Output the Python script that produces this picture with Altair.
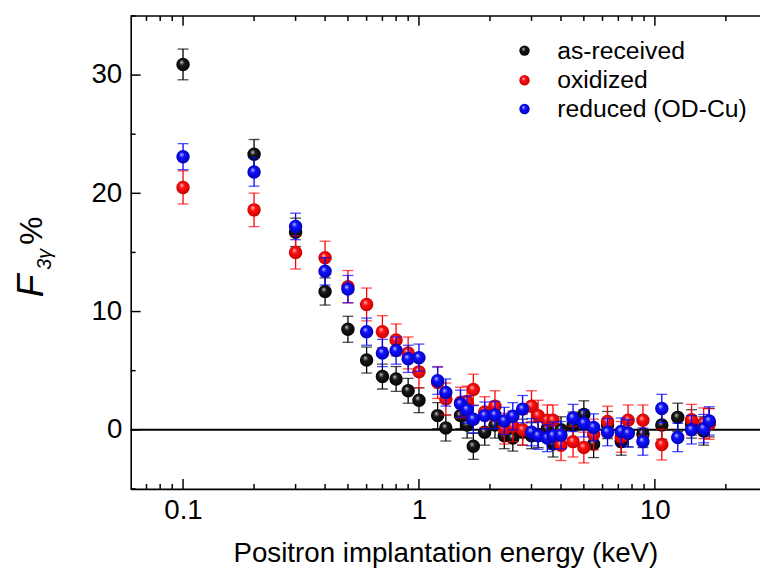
import altair as alt
import pandas as pd

# ---------------- data ----------------
energy = [0.1, 0.2, 0.3, 0.4, 0.5, 0.6, 0.7, 0.8, 0.9, 1.0, 1.2, 1.3, 1.5, 1.6, 1.7,
          1.9, 2.1, 2.3, 2.5, 2.75, 3.0, 3.2, 3.5, 3.7, 4.0, 4.5, 5.0, 5.5, 6.3, 7.2,
          7.7, 8.9, 10.7, 12.5, 14.3, 16.1, 17.0]

black_val = [30.9, 23.3, 16.7, 11.7, 8.5, 5.9, 4.5, 4.3, 3.3, 2.5, 1.2, 0.15, 1.2, 0.4, -1.4,
             -0.2, 0.4, -0.5, -0.7, -0.2, -0.5, -0.4, 0.1, -1.2, 0.0, 0.4, 1.3, -1.2, 0.4, -1.0,
             -0.3, -0.35, 0.4, 1.05, 0.5, -0.1, 0.6]
black_err = [1.3, 1.25, 1.2, 1.15, 1.1, 1.1, 1.05, 1.05, 1.05, 1.05, 1.1, 1.1, 1.1, 1.1, 1.1,
             1.1, 1.1, 1.1, 1.1, 1.1, 1.1, 1.1, 1.1, 1.1, 1.1, 1.1, 1.15, 1.15, 1.15, 1.15,
             1.15, 1.15, 1.2, 1.2, 1.2, 1.2, 1.2]

red_energy = [0.1, 0.2, 0.3, 0.4, 0.5, 0.6, 0.7, 0.8, 0.9, 1.0, 1.2, 1.3, 1.5, 1.6, 1.7,
              1.9, 2.1, 2.3, 2.5, 2.75, 3.0, 3.2, 3.5, 3.7, 4.0, 4.5, 5.0, 5.5, 6.3, 7.2,
              7.7, 8.9, 10.7, 14.3, 16.1, 17.0]
red_val = [20.5, 18.6, 15.0, 14.55, 12.1, 10.6, 8.3, 7.6, 6.5, 4.9, 4.0, 2.6, 2.3, 2.4, 3.4,
           1.5, 2.0, 0.1, 0.3, 0.0, 2.0, 1.2, 0.8, 0.8, -1.3, -1.0, -1.5, -0.4, 0.7, -0.6,
           0.8, 0.8, -1.25, 0.85, 0.55, 0.5]
red_err = [1.4, 1.42, 1.4, 1.4, 1.37, 1.39, 1.35, 1.35, 1.35, 1.35, 1.35, 1.35, 1.3, 1.3, 1.3,
           1.3, 1.3, 1.3, 1.3, 1.3, 1.3, 1.3, 1.3, 1.3, 1.3, 1.3, 1.3, 1.3, 1.3, 1.3,
           1.3, 1.3, 1.3, 1.3, 1.3, 1.3]

blue_val = [23.1, 21.8, 17.2, 13.4, 11.9, 8.3, 6.5, 6.7, 6.0, 6.1, 4.15, 3.15, 2.2, 1.7, 0.9,
            1.2, 1.25, 0.75, 1.15, 1.75, -0.2, -0.5, -0.7, -0.5, -0.45, 1.0, 0.55, 0.2, -0.2, -0.15,
            -0.3, -1.0, 1.8, -0.65, 0.0, 0.1, 0.75]
blue_err = [1.1, 1.2, 1.12, 1.15, 1.15, 1.15, 1.15, 1.15, 1.15, 1.15, 1.15, 1.15, 1.15, 1.15, 1.15,
            1.15, 1.15, 1.15, 1.15, 1.15, 1.15, 1.15, 1.15, 1.15, 1.15, 1.15, 1.15, 1.15, 1.15, 1.15,
            1.15, 1.15, 1.2, 1.2, 1.2, 1.2, 1.2]

series_names = ["as-received", "oxidized", "reduced (OD-Cu)"]

x_major = [0.1, 1, 10]
x_minor = [0.07, 0.08, 0.09, 0.2, 0.3, 0.4, 0.5, 0.6, 0.7, 0.8, 0.9,
           2, 3, 4, 5, 6, 7, 8, 9, 20]
y_major = [0, 10, 20, 30]
y_minor = [-5, 5, 15, 25, 35]

# ---------------- styling ----------------
FONT = "Liberation Sans"
W, H = 636, 478

xscale = alt.Scale(type="log", domain=[0.06, 27.9], nice=False)
yscale = alt.Scale(domain=[-5, 35], nice=False, zero=False)

xaxis = alt.Axis(values=x_major, format="~g", title="Positron implantation energy (keV)",
                 titleFont=FONT, titleFontSize=28, titleFontWeight="normal", titleColor="black",
                 titlePadding=15, labelFont=FONT, labelFontSize=28, labelColor="black",
                 labelPadding=8, labelFlush=False, ticks=False, tickSize=0, grid=False,
                 domainColor="black", domainWidth=1.6)
yaxis = alt.Axis(values=y_major, title=None, labelFont=FONT, labelFontSize=28,
                 labelColor="black", labelPadding=9, ticks=False, tickSize=0, grid=False,
                 domainColor="black", domainWidth=1.6)


def X(field="E"):
    return alt.X(f"{field}:Q", scale=xscale, axis=xaxis)


def Y(field):
    return alt.Y(f"{field}:Q", scale=yscale, axis=yaxis)


def ball(dark, mid, light):
    return alt.RadialGradient(
        gradient="radial",
        stops=[alt.GradientStop(offset=0, color=light),
               alt.GradientStop(offset=0.35, color=mid),
               alt.GradientStop(offset=1, color=dark)],
        x1=0.38, y1=0.32, r1=0.0, x2=0.5, y2=0.5, r2=0.55)


styles = [
    ("black", ball("#000000", "#1a1a1a", "#d0d0d0")),
    ("#ff0000", ball("#c00000", "#ff1010", "#ffc8c8")),
    ("#0000ff", ball("#0000b0", "#1010ff", "#c8c8ff")),
]

data_sets = [(energy, black_val, black_err), (red_energy, red_val, red_err),
             (energy, blue_val, blue_err)]

layers = []

# zero line and top frame
layers.append(alt.Chart(pd.DataFrame({"y": [0]})).mark_rule(color="black", strokeWidth=2)
              .encode(y=Y("y")))
layers.append(alt.Chart(pd.DataFrame({"y": [35]})).mark_rule(color="black", strokeWidth=1.6)
              .encode(y=Y("y")))

for (E, v, e), (col, grad) in zip(data_sets, styles):
    df = pd.DataFrame({"E": E, "v": v,
                       "lo": [a - b for a, b in zip(v, e)],
                       "hi": [a + b for a, b in zip(v, e)]})
    base = alt.Chart(df)
    layers.append(base.mark_rule(color=col, strokeWidth=1.3).encode(x=X(), y=Y("lo"), y2="hi:Q"))
    layers.append(base.mark_tick(color=col, orient="horizontal", size=11, thickness=1.3)
                  .encode(x=X(), y=Y("lo")))
    layers.append(base.mark_tick(color=col, orient="horizontal", size=11, thickness=1.3)
                  .encode(x=X(), y=Y("hi")))
    layers.append(base.mark_circle(size=185, opacity=1, fill=grad).encode(x=X(), y=Y("v")))

# inward ticks
xmaj = alt.Chart(pd.DataFrame({"E": x_major}))
xmin = alt.Chart(pd.DataFrame({"E": x_minor}))
for ch, ln in ((xmaj, 10), (xmin, 5)):
    layers.append(ch.mark_rule(color="black", strokeWidth=1.5)
                  .encode(x=X(), y=alt.value(H), y2=alt.value(H - ln)))
    layers.append(ch.mark_rule(color="black", strokeWidth=1.5)
                  .encode(x=X(), y=alt.value(0), y2=alt.value(ln)))
ymaj = alt.Chart(pd.DataFrame({"y": y_major}))
ymin = alt.Chart(pd.DataFrame({"y": y_minor}))
for ch, ln in ((ymaj, 10), (ymin, 5)):
    layers.append(ch.mark_rule(color="black", strokeWidth=1.5)
                  .encode(y=Y("y"), x=alt.value(0), x2=alt.value(ln)))

# y-axis title: F (italic) with subscript 3γ and %
ytitle = [("F", 38, "italic", -100, 273),
          ("3γ", 20, "italic", -87, 246),
          ("%", 32, "normal", -100, 217)]
for t, fs, st, xx, yy in ytitle:
    layers.append(alt.Chart(pd.DataFrame({"t": [t]}))
                  .mark_text(font=FONT, fontSize=fs, fontStyle=st, angle=270,
                             align="center", baseline="middle", color="black")
                  .encode(text="t:N", x=alt.value(xx), y=alt.value(yy)))

# legend
leg_y = [35, 65, 94]
for name, (col, grad), yy in zip(series_names, styles, leg_y):
    layers.append(alt.Chart(pd.DataFrame({"t": [name]}))
                  .mark_circle(size=110, opacity=1, fill=grad)
                  .encode(x=alt.value(398), y=alt.value(yy)))
    layers.append(alt.Chart(pd.DataFrame({"t": [name]}))
                  .mark_text(font=FONT, fontSize=25, align="left", baseline="middle",
                             color="black")
                  .encode(text="t:N", x=alt.value(431), y=alt.value(yy)))

chart = alt.layer(*layers).properties(
    width=W, height=H,
    autosize=alt.AutoSizeParams(type="none"),
    padding={"left": 124, "top": 5, "right": 0, "bottom": 88},
    background="white",
).configure_view(stroke=None)

chart.save("out.html", embed_options={"renderer": "svg", "actions": False})
